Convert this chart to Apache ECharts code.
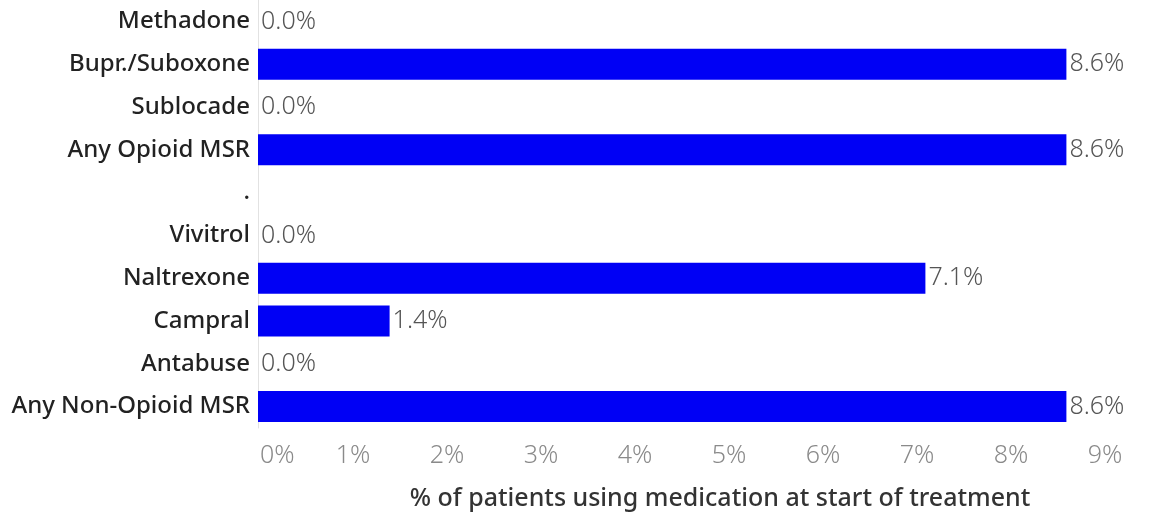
<!DOCTYPE html>
<html><head><meta charset="utf-8">
<script src="https://cdn.jsdelivr.net/npm/echarts@6/dist/echarts.min.js"></script>
<style>html,body{margin:0;padding:0;background:#fff}#c{width:1164px;height:513px}</style>
</head><body><div id="c"></div>
<script>
const categories = ["Methadone","Bupr./Suboxone","Sublocade","Any Opioid MSR",".","Vivitrol","Naltrexone","Campral","Antabuse","Any Non-Opioid MSR"];
const values = [0.0, 8.6, 0.0, 8.6, null, 0.0, 7.1, 1.4, 0.0, 8.6];
const tickMax = 9;
const axisTitle = "% of patients using medication at start of treatment";

const chart = echarts.init(document.getElementById('c'), null, {renderer:'canvas'});
chart.setOption({
  animation:false,
  title:{text:axisTitle,left:715,top:481,textAlign:'center',
    textStyle:{fontFamily:'Noto Sans',fontSize:25,fontWeight:500,color:'#333'}},
  grid:{left:258,right:60,top:0,height:428,containLabel:false},
  xAxis:{type:'value',min:0,max:tickMax,interval:1,
    axisLine:{show:false},splitLine:{show:false},
    axisTick:{show:false},
    axisLabel:{formatter:v=>v+'%',fontFamily:'Noto Sans',fontSize:25,fontWeight:300,color:'#8a8a8a',margin:15,alignMinLabel:'left',padding:[0,0,0,2]}},
  yAxis:{type:'category',data:categories,inverse:true,
    axisLine:{show:true,lineStyle:{color:'#e2e2e2',width:1}},
    axisTick:{show:false},
    axisLabel:{fontFamily:'Noto Sans',fontSize:24,fontWeight:500,color:'#222',margin:8}},
  series:[{type:'bar',data:values,barWidth:31,
    itemStyle:{color:'#0000f5'},
    label:{show:true,position:'right',distance:3,formatter:p=>p.value==null?'':p.value.toFixed(1)+'%',
      fontFamily:'Noto Sans',fontSize:25,fontWeight:300,color:'#555'}}]
});
</script></body></html>
